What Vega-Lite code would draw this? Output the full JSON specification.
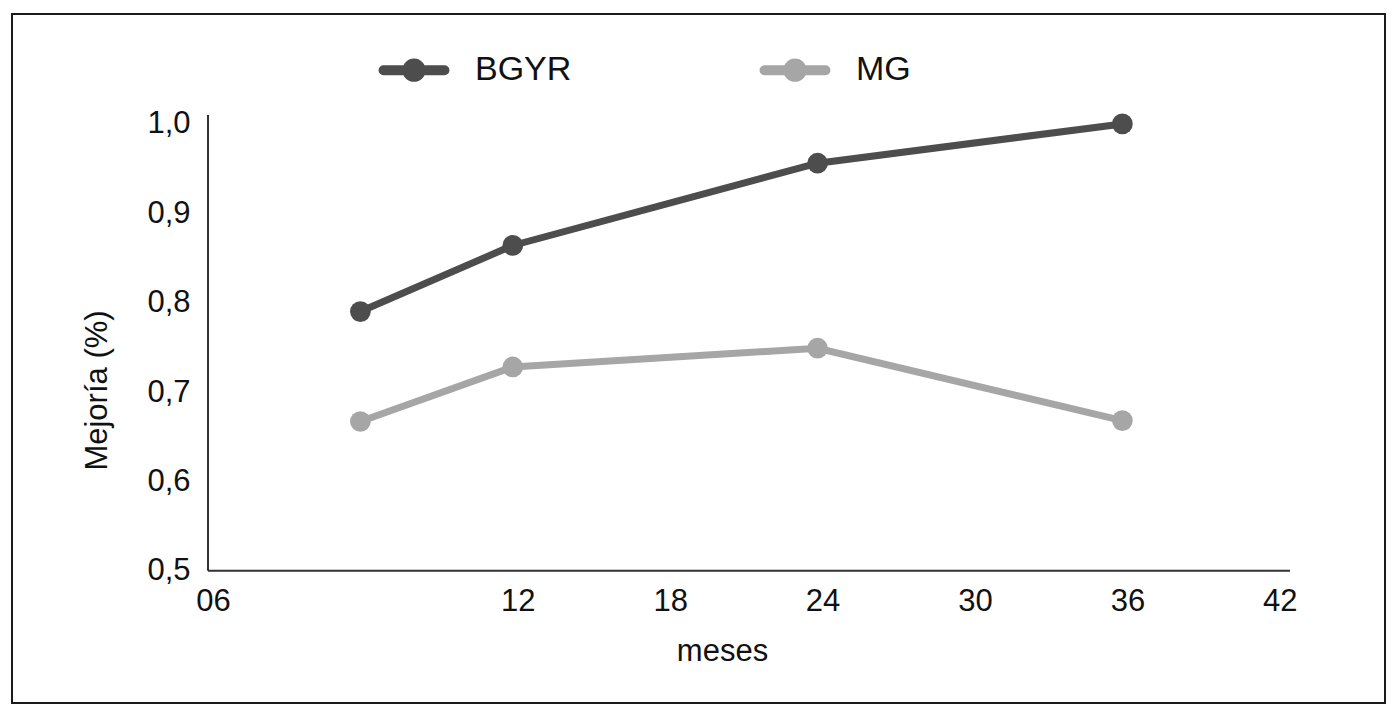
{
  "$schema": "https://vega.github.io/schema/vega-lite/v6.json",
  "width": 1373,
  "height": 689,
  "autosize": {"type": "none"},
  "padding": {"left": 12, "top": 14, "right": 15, "bottom": 17},
  "background": "white",
  "config": {
    "view": {"stroke": "#1a1a1a", "strokeWidth": 2},
    "font": "Liberation Sans"
  },
  "layer": [
    {
      "data": {
        "values": [
          {"grupo": "BGYR", "meses": 6, "mejoria": 0.79},
          {"grupo": "BGYR", "meses": 12, "mejoria": 0.864},
          {"grupo": "BGYR", "meses": 24, "mejoria": 0.956},
          {"grupo": "BGYR", "meses": 36, "mejoria": 1.0},
          {"grupo": "MG", "meses": 6, "mejoria": 0.667},
          {"grupo": "MG", "meses": 12, "mejoria": 0.728},
          {"grupo": "MG", "meses": 24, "mejoria": 0.749},
          {"grupo": "MG", "meses": 36, "mejoria": 0.668}
        ]
      },
      "mark": {"type": "line", "strokeWidth": 7, "point": {"filled": true, "size": 430, "opacity": 1}},
      "encoding": {
        "x": {
          "field": "meses",
          "type": "quantitative",
          "scale": {"domain": [-7.717, 46.34], "nice": false, "zero": false},
          "axis": {
            "orient": "bottom",
            "offset": -131,
            "domain": false,
            "ticks": false,
            "grid": false,
            "values": [0, 12, 18, 24, 30, 36, 42],
            "labelExpr": "datum.value == 0 ? '06' : datum.label",
            "labelFontSize": 31,
            "labelColor": "#111",
            "labelPadding": 14,
            "labelOffset": 5,
            "labelFlush": false,
            "title": "meses",
            "titleFontSize": 31,
            "titleFontWeight": "normal",
            "titleColor": "#111",
            "titlePadding": 20,
            "titleX": 710
          }
        },
        "y": {
          "field": "mejoria",
          "type": "quantitative",
          "scale": {"domain": [0.352, 1.123], "nice": false, "zero": false},
          "axis": {
            "offset": -196,
            "domain": false,
            "ticks": false,
            "grid": false,
            "values": [0.5, 0.6, 0.7, 0.8, 0.9, 1.0],
            "labelExpr": "replace(format(datum.value, '.1f'), '.', ',')",
            "labelFontSize": 31,
            "labelColor": "#111",
            "labelPadding": 18,
            "title": "Mejoría (%)",
            "titleFontSize": 31,
            "titleFontWeight": "normal",
            "titleColor": "#111",
            "titlePadding": 33,
            "titleY": 376
          }
        },
        "color": {
          "field": "grupo",
          "type": "nominal",
          "scale": {"domain": ["BGYR", "MG"], "range": ["#4d4d4d", "#a6a6a6"]},
          "legend": {
            "orient": "none",
            "legendX": 385,
            "legendY": 39,
            "direction": "horizontal",
            "title": null,
            "symbolType": "M-2.77,0L2.77,0M0.6,0A0.6,0.6,0,1,1,-0.6,0A0.6,0.6,0,1,1,0.6,0Z",
            "symbolSize": 484,
            "symbolStrokeWidth": 10,
            "symbolOpacity": 1,
            "labelFontSize": 34,
            "labelColor": "#111",
            "labelOffset": 44,
            "columnPadding": 172,
            "encode": {
              "symbols": {
                "update": {
                  "fill": {"scale": "color", "field": "value"},
                  "strokeCap": {"value": "round"}
                }
              }
            }
          }
        }
      }
    },
    {
      "data": {
        "values": [
          {"x": 0, "x2": 0, "y": 0.5, "y2": 1.01},
          {"x": 0, "x2": 42.6, "y": 0.5, "y2": 0.5}
        ]
      },
      "mark": {"type": "rule", "color": "#333", "strokeWidth": 2},
      "encoding": {
        "x": {"field": "x", "type": "quantitative"},
        "x2": {"field": "x2"},
        "y": {"field": "y", "type": "quantitative"},
        "y2": {"field": "y2"}
      }
    }
  ]
}
